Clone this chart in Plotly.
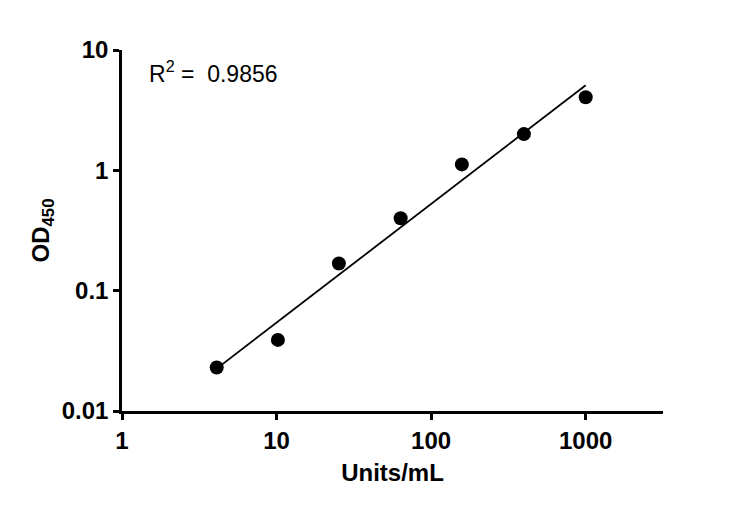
import plotly.graph_objects as go

# standard curve points (Units/mL vs OD450)
conc = [4.1, 10.2, 25.3, 63.5, 158, 398, 1000]
od450 = [0.023, 0.039, 0.168, 0.40, 1.12, 2.0, 4.05]

# linear fit ends
fit_x = [4.1, 1000]
fit_y = [0.0225, 5.1]

x_ticks = [1, 10, 100, 1000]
y_ticks = [0.01, 0.1, 1, 10]

r2_text = "R<sup>2</sup> =  0.9856"

fig = go.Figure()
fig.add_trace(go.Scatter(x=fit_x, y=fit_y, mode="lines",
                         line=dict(color="black", width=1.8), showlegend=False))
fig.add_trace(go.Scatter(x=conc, y=od450, mode="markers",
                         marker=dict(color="black", size=14), showlegend=False))

fig.add_annotation(x=0.046, y=0.94, xref="paper", yref="paper",
                   text=r2_text, showarrow=False, xanchor="left", yanchor="middle",
                   font=dict(family="Arial", size=23, color="black"))

axis_font = dict(family="Arial", size=24, color="black")

fig.update_xaxes(type="log", range=[0, 3.5], tickvals=x_ticks,
                 ticktext=[f"<b>{v:g}</b>" for v in x_ticks],
                 showline=True, linecolor="black", linewidth=2.5,
                 ticks="outside", ticklen=6, tickwidth=2.5, tickcolor="black",
                 showgrid=False, zeroline=False, tickfont=axis_font,
                 title=dict(text="<b>Units/mL</b>", font=axis_font, standoff=12))
fig.update_yaxes(type="log", range=[-2, 1], tickvals=y_ticks,
                 ticktext=[f"<b>{v:g}</b>" for v in y_ticks],
                 showline=True, linecolor="black", linewidth=2.5,
                 ticks="outside", ticklen=6, tickwidth=2.5, tickcolor="black",
                 showgrid=False, zeroline=False, tickfont=axis_font,
                 title=dict(text="<b>OD<sub>450</sub></b>", font=axis_font, standoff=6))

fig.update_layout(width=750, height=509, plot_bgcolor="white", paper_bgcolor="white",
                  margin=dict(l=114, r=95, t=42, b=106))

fig.write_html("out.html")
